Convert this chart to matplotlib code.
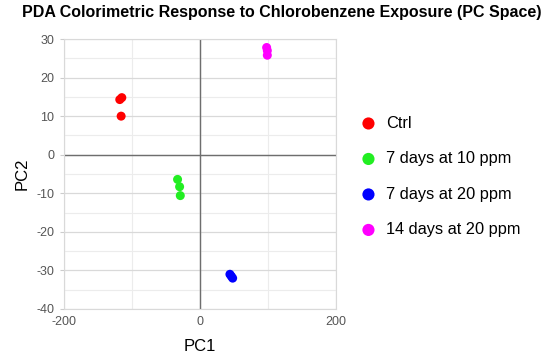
import numpy as np
import matplotlib.pyplot as plt
from matplotlib.ticker import MultipleLocator

plt.rcParams['font.family'] = ['Liberation Sans', 'DejaVu Sans']
plt.rcParams['axes.unicode_minus'] = False

# group labels and colours
groups = ["Ctrl", "7 days at 10 ppm", "7 days at 20 ppm", "14 days at 20 ppm"]
colors = ["#ff0000", "#22ee22", "#0000ff", "#ff00ff"]

# PC scores
pc1 = [
    [-118, -115, -116],
    [-33, -30, -29],
    [44, 46, 48],
    [98, 99, 99],
]
pc2 = [
    [14.3, 14.8, 10.0],
    [-6.4, -8.3, -10.6],
    [-31.0, -31.5, -32.0],
    [27.8, 27.0, 25.8],
]

fig = plt.figure(figsize=(5.5, 3.59), dpi=100)
ax = fig.add_axes([0.1164, 0.1393, 0.4945, 0.752])

for g, c, xs, ys in zip(groups, colors, pc1, pc2):
    ax.scatter(xs, ys, s=42, color=c, label=g, zorder=3, edgecolors='none')

ax.set_xlim(-200, 200)
ax.set_ylim(-40, 30)
ax.xaxis.set_major_locator(MultipleLocator(200))
ax.xaxis.set_minor_locator(MultipleLocator(100))
ax.yaxis.set_major_locator(MultipleLocator(10))
ax.yaxis.set_minor_locator(MultipleLocator(5))
ax.set_axisbelow(True)
ax.grid(which='major', color='#d9d9d9', linewidth=0.9)
ax.grid(which='minor', color='#ececec', linewidth=0.8)
ax.axhline(0, color='#6e6e6e', linewidth=1.0, zorder=2.5)
ax.axvline(0, color='#6e6e6e', linewidth=1.0, zorder=2.5)
for s in ax.spines.values():
    s.set_color('#d9d9d9')
ax.tick_params(which='both', length=0, labelsize=9, labelcolor='#555555', pad=5)
ax.tick_params(axis='y', which='major', length=3, color='#cccccc', pad=4)
ax.set_xticks([-200, 0, 200])
ax.set_xticklabels(["-200", "0", "200"])

ax.set_xlabel("PC1", fontsize=12, labelpad=8)
ax.set_ylabel("PC2", fontsize=12, labelpad=5)

fig.suptitle("PDA Colorimetric Response to Chlorobenzene Exposure (PC Space)",
             fontsize=11.5, fontweight='bold', x=0.513, y=0.985)

ax.legend(loc='upper left', bbox_to_anchor=(1.035, 0.74), frameon=False,
          fontsize=11.8, labelspacing=1.25, handletextpad=0.1, markerscale=1.35,
          borderaxespad=0)

fig.savefig("out.png", dpi=100)
